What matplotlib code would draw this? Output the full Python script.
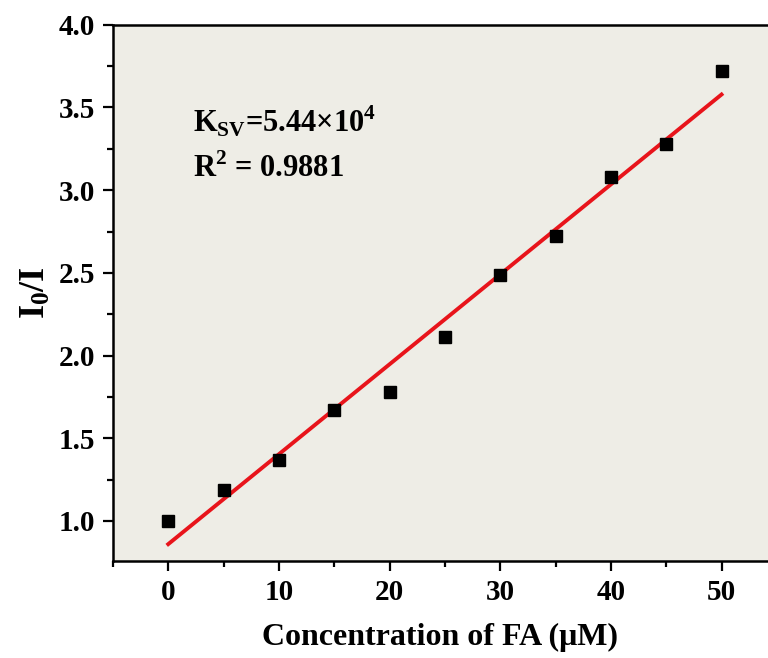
import numpy as np
import matplotlib
matplotlib.use('Agg')
import matplotlib.pyplot as plt
from matplotlib.ticker import MultipleLocator

# FA concentration (uM) and quenching ratio I0/I
conc = [0, 5, 10, 15, 20, 25, 30, 35, 40, 45, 50]
ratio = [1.00, 1.19, 1.37, 1.67, 1.78, 2.11, 2.49, 2.72, 3.08, 3.28, 3.72]
x_ticks = [0, 10, 20, 30, 40, 50]
y_ticks = [1.0, 1.5, 2.0, 2.5, 3.0, 3.5, 4.0]

plt.rcParams['font.family'] = ['Liberation Serif', 'DejaVu Serif']
plt.rcParams['font.weight'] = 'bold'
plt.rcParams['mathtext.fontset'] = 'custom'
plt.rcParams['mathtext.rm'] = 'Liberation Serif:bold'
plt.rcParams['mathtext.bf'] = 'Liberation Serif:bold'

fig = plt.figure(figsize=(7.68, 6.58), dpi=100, facecolor='white')
ax = fig.add_axes([0.147, 0.1474, 0.853, 0.815])
ax.set_facecolor('#eeede6')

slope, intercept = np.polyfit(conc, ratio, 1)
xfit = np.array([conc[0], conc[-1]])
ax.plot(xfit, slope * xfit + intercept, color='#e8141b', lw=2.8, zorder=2)
ax.plot(conc, ratio, 's', color='black', ms=8, zorder=3)

ax.set_xlim(-5, 54.2)
ax.set_ylim(0.758, 4.0)
ax.set_xticks(x_ticks)
ax.set_yticks(y_ticks)
ax.set_yticklabels(['%.1f' % v for v in y_ticks])
ax.xaxis.set_minor_locator(MultipleLocator(5))
ax.yaxis.set_minor_locator(MultipleLocator(0.25))
ax.tick_params(which='major', direction='out', length=7, width=1.6, labelsize=21, pad=6)
ax.tick_params(which='minor', direction='out', length=4, width=1.6)

ax.spines['right'].set_visible(False)
for s in ['left', 'bottom', 'top']:
    ax.spines[s].set_linewidth(1.8)

ax.set_xlabel('Concentration of FA (μM)', fontsize=23, fontweight='bold', labelpad=12)
ax.set_ylabel(r'$\mathbf{I_0/I}$', fontsize=26, labelpad=4)

ax.text(0.122, 0.819, r'$\mathbf{K_{SV}}$=5.44×10$^{\mathbf{4}}$', transform=ax.transAxes,
        fontsize=22, fontweight='bold', va='center')
ax.text(0.122, 0.731, r'R$^{\mathbf{2}}$ = 0.9881', transform=ax.transAxes,
        fontsize=22, fontweight='bold', va='center')

fig.savefig('out.png', dpi=100)
